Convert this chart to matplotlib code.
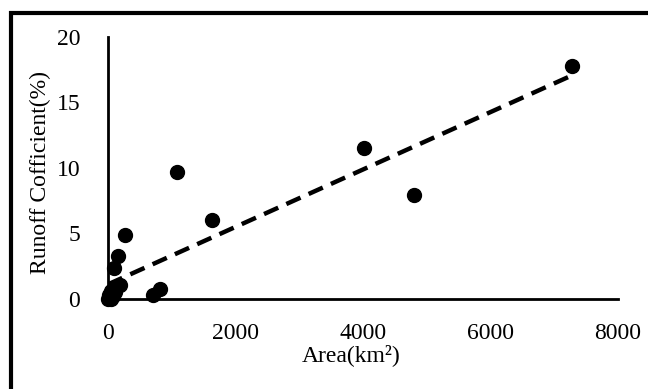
import numpy as np
import matplotlib
matplotlib.use("Agg")
import matplotlib.pyplot as plt
from matplotlib.patches import Rectangle

# catchment area (km2) vs runoff coefficient (%)
area = [7280, 4010, 4800, 1080, 1630, 263, 160, 95, 185, 820, 700,
        0, 20, 50, 80, 110, 130, 10, 40]
runoff = [17.8, 11.5, 7.9, 9.7, 6.0, 4.9, 3.3, 2.4, 1.1, 0.8, 0.3,
          0.0, 0.3, 0.6, 0.2, 0.5, 0.9, 0.1, 0.0]

x_ticks = [0, 2000, 4000, 6000, 8000]
y_ticks = [0, 5, 10, 15, 20]

plt.rcParams["font.family"] = ["Liberation Serif", "DejaVu Serif"]

fig = plt.figure(figsize=(6.48, 3.89), dpi=100)
ax = fig.add_axes([0.1667, 0.2314, 0.7870, 0.6735])

ax.scatter(area, runoff, s=100, color="black", zorder=3, clip_on=False)

# linear trendline over the data range
slope, intercept = np.polyfit(area, runoff, 1)
xs = np.array([min(area), max(area)])
ax.plot(xs, slope * xs + intercept, color="black", lw=3.2,
        dashes=(3.5, 2.0), dash_capstyle="butt", zorder=2)

ax.set_xlim(0, 8000)
ax.set_ylim(0, 20)
ax.set_xticks(x_ticks)
ax.set_yticks(y_ticks)
ax.tick_params(length=0, labelsize=17)
ax.tick_params(axis="x", pad=17)
ax.tick_params(axis="y", pad=20)

for side in ["top", "right"]:
    ax.spines[side].set_visible(False)
for side in ["left", "bottom"]:
    ax.spines[side].set_linewidth(2.0)

fig.text(40 / 648, 1 - 172 / 389, "Runoff Cofficient(%)", rotation=90,
         ha="center", va="center", fontsize=17)
fig.text(351 / 648, 1 - 355 / 389, "Area(km²)", ha="center", va="center",
         fontsize=17)

# outer frame
fig.patches.append(Rectangle((11 / 648, -0.1), 1.0, 1 - 13 / 389 + 0.1,
                             transform=fig.transFigure, fill=False,
                             edgecolor="black", lw=3))

fig.savefig("out.png", dpi=100)
